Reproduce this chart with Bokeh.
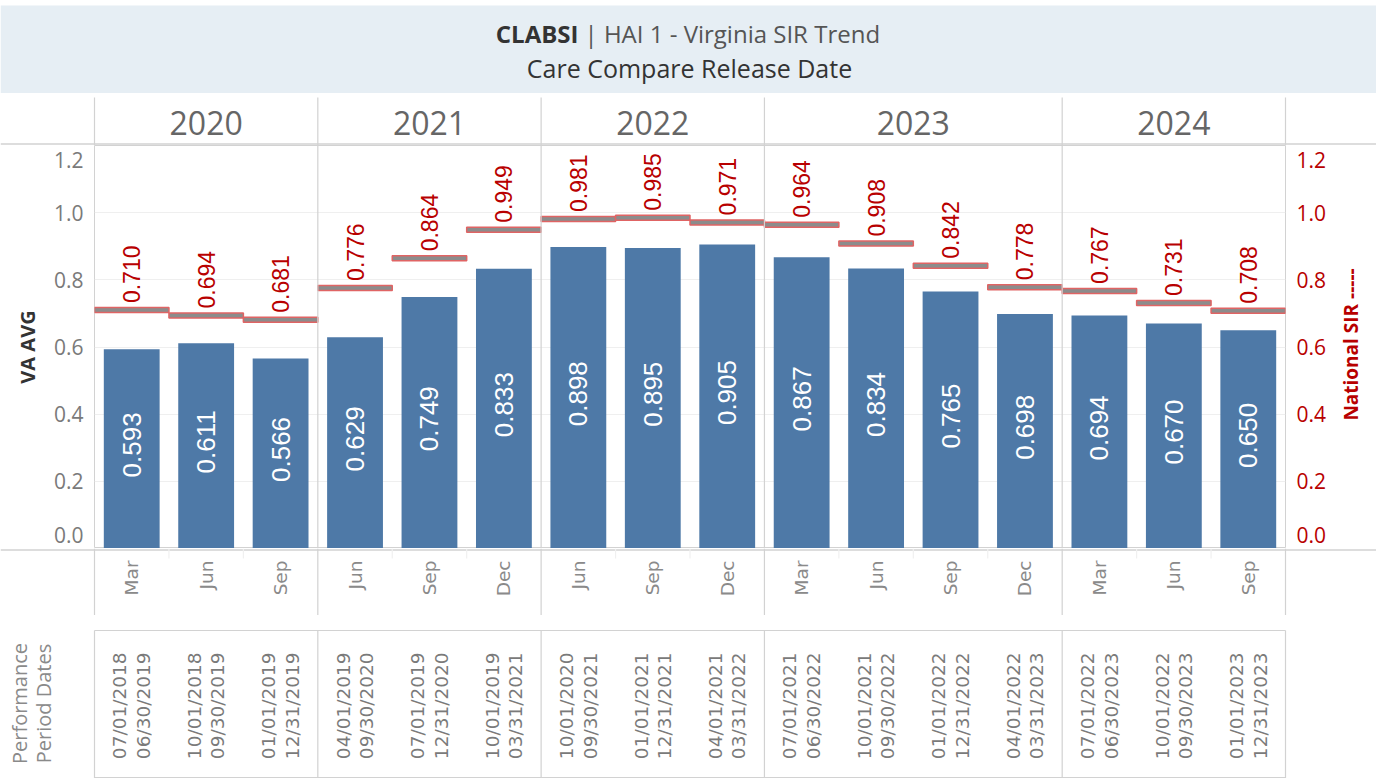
import math
from bokeh.plotting import figure
from bokeh.models import Range1d, LinearAxis, FixedTicker, Span
from bokeh.layouts import column, row
from bokeh.core.properties import value
from bokeh.embed import file_html
from bokeh.resources import INLINE

# ---------------- data ----------------
release_years = ["2020", "2020", "2020", "2021", "2021", "2021", "2022", "2022", "2022",
                 "2023", "2023", "2023", "2023", "2024", "2024", "2024"]
release_months = ["Mar", "Jun", "Sep", "Jun", "Sep", "Dec", "Jun", "Sep", "Dec",
                  "Mar", "Jun", "Sep", "Dec", "Mar", "Jun", "Sep"]
va_avg = [0.593, 0.611, 0.566, 0.629, 0.749, 0.833, 0.898, 0.895, 0.905,
          0.867, 0.834, 0.765, 0.698, 0.694, 0.670, 0.650]
national_sir = [0.710, 0.694, 0.681, 0.776, 0.864, 0.949, 0.981, 0.985, 0.971,
                0.964, 0.908, 0.842, 0.778, 0.767, 0.731, 0.708]
period_start = ["07/01/2018", "10/01/2018", "01/01/2019", "04/01/2019", "07/01/2019", "10/01/2019",
                "10/01/2020", "01/01/2021", "04/01/2021", "07/01/2021", "10/01/2021", "01/01/2022",
                "04/01/2022", "07/01/2022", "10/01/2022", "01/01/2023"]
period_end = ["06/30/2019", "09/30/2019", "12/31/2019", "09/30/2020", "12/31/2020", "03/31/2021",
              "09/30/2021", "12/31/2021", "03/31/2022", "06/30/2022", "09/30/2022", "12/31/2022",
              "03/31/2023", "06/30/2023", "09/30/2023", "12/31/2023"]
y_ticks = [0.0, 0.2, 0.4, 0.6, 0.8, 1.0, 1.2]
y_tick_labels = ["0.0", "0.2", "0.4", "0.6", "0.8", "1.0", "1.2"]

# ---------------- layout constants ----------------
N = len(va_avg)
W = 1376
LEFT, RIGHT = 94, 91
FRAME_W = W - LEFT - RIGHT
SLOT_PX = FRAME_W / N
SIDE_W = 46
H_TITLE, H_HEAD, H_MAIN, H_MONTH, H_DATES = 93, 52, 403, 67, 163
Y_MAX = 1.2

SEP = "#d2d2d2"
BAR = "#4e79a7"
RED = "#b80000"
TICK_GRAY = "#7a7a7a"
NUM_FONT = value("Liberation Sans")
UI_FONT = value("Open Sans")
DATE_FONT = value("DejaVu Sans")

xs = [i + 0.5 for i in range(N)]
bounds = [i for i in range(1, N) if release_years[i] != release_years[i - 1]]
edges = [0] + bounds + [N]
inner = [i for i in range(1, N) if i not in bounds]
groups = []
for a, b in zip(edges[:-1], edges[1:]):
    groups.append((release_years[a], (a + b) / 2))

XR = (-LEFT / SLOT_PX, N + RIGHT / SLOT_PX)


def strip(h, xr=XR, w=W):
    f = figure(width=w, height=h, x_range=Range1d(*xr), y_range=Range1d(0, h),
               x_axis_location=None, y_axis_location=None, toolbar_location=None,
               output_backend="svg", min_border=0, outline_line_color=None,
               frame_align=False)
    f.grid.visible = False
    return f


# ---------------- title ----------------
t = strip(H_TITLE, (0, W))
t.quad(left=[0], right=[W], bottom=[0], top=[H_TITLE - 5], fill_color="#e6eef4", line_color=None)
t.text(x=[578], y=[60], text=["CLABSI"], text_align="right", text_baseline="middle",
       text_font=UI_FONT, text_font_size="24px", text_font_style="bold", text_color="#333333")
t.text(x=[584], y=[60], text=["| HAI 1 - Virginia SIR Trend"], text_align="left",
       text_baseline="middle", text_font=UI_FONT, text_font_size="24px", text_color="#555555")
t.text(x=[689], y=[26], text=["Care Compare Release Date"], text_align="center",
       text_baseline="middle", text_font=UI_FONT, text_font_size="25px", text_color="#333333")

# ---------------- year header ----------------
hd = strip(H_HEAD)
hd.segment(x0=edges, y0=[0] * len(edges), x1=edges, y1=[H_HEAD - 4] * len(edges),
           line_color=SEP, line_width=1.2)
hd.segment(x0=[XR[0]], y0=[1.5], x1=[XR[1]], y1=[1.5], line_color=SEP, line_width=1.5)
hd.text(x=[g[1] for g in groups], y=[23] * len(groups), text=[g[0] for g in groups],
        text_align="center", text_baseline="middle", text_font=UI_FONT,
        text_font_size="32px", text_color="#666666")

# ---------------- main plot ----------------
MAIN_W = W - SIDE_W
p = figure(width=MAIN_W, height=H_MAIN, x_range=Range1d(0, N), y_range=Range1d(0, Y_MAX),
           x_axis_location=None, toolbar_location=None, output_backend="svg",
           min_border_left=LEFT, min_border_right=MAIN_W - LEFT - FRAME_W,
           min_border_top=0, min_border_bottom=0, outline_line_color=SEP, frame_align=False)
p.ygrid.ticker = FixedTicker(ticks=y_ticks)
p.ygrid.grid_line_color = "#efefef"
p.xgrid.visible = False

# edge tick labels are pulled inside the frame, as the original does
label_pos = [min(max(v, 0.041), Y_MAX - 0.042) for v in y_ticks]
overrides = {pos: lab for pos, lab in zip(label_pos, y_tick_labels)}


def style_axis(ax, color):
    ax.ticker = FixedTicker(ticks=label_pos)
    ax.major_label_overrides = overrides
    ax.major_label_text_font = "Open Sans"
    ax.major_label_text_font_size = "21px"
    ax.major_label_text_color = color
    ax.major_label_standoff = 11
    ax.major_tick_line_color = None
    ax.major_tick_out = 0
    ax.major_tick_in = 0
    ax.minor_tick_line_color = None
    ax.minor_tick_out = 0
    ax.minor_tick_in = 0
    ax.axis_line_color = None


ax_l = p.yaxis[0]
style_axis(ax_l, TICK_GRAY)
ax_l.axis_label = "VA AVG"
ax_l.axis_label_text_font = "Open Sans"
ax_l.axis_label_text_font_size = "20px"
ax_l.axis_label_text_font_style = "bold"
ax_l.axis_label_text_color = "#333333"
ax_l.axis_label_standoff = 10

p.extra_y_ranges = {"nat": Range1d(0, Y_MAX)}
ax_r = LinearAxis(y_range_name="nat")
style_axis(ax_r, RED)
p.add_layout(ax_r, "right")

for b in bounds:
    p.add_layout(Span(location=b, dimension="height", line_color=SEP, line_width=1.2))

p.vbar(x=xs, top=va_avg, bottom=0, width=0.75, fill_color=BAR, line_color=None)
p.rect(x=xs, y=national_sir, width=1, height=5, height_units="screen",
       fill_color="#8c8c8c", line_color="#e06464", line_width=1.5, y_range_name="nat")
p.text(x=xs, y=national_sir, text=[f"{v:.3f}" for v in national_sir], angle=math.pi / 2,
       text_align="left", text_baseline="middle", y_offset=-7, text_font=NUM_FONT,
       text_font_size="23px", text_color=RED, y_range_name="nat")
p.text(x=xs, y=[v / 2 for v in va_avg], text=[f"{v:.3f}" for v in va_avg], angle=math.pi / 2,
       text_align="center", text_baseline="middle", y_offset=-4, text_font=NUM_FONT,
       text_font_size="26px", text_color="white")

# right-hand axis title (reads bottom to top, like the original)
side = strip(H_MAIN, (0, SIDE_W), SIDE_W)
side.text(x=[20], y=[204], text=["National SIR -----"], angle=math.pi / 2,
          text_align="center", text_baseline="middle", text_font=UI_FONT,
          text_font_size="19px", text_font_style="bold", text_color=RED)

# ---------------- month row ----------------
mo = strip(H_MONTH)
mo.segment(x0=[XR[0]], y0=[H_MONTH - 1.5], x1=[XR[1]], y1=[H_MONTH - 1.5],
           line_color=SEP, line_width=1.5)
mo.segment(x0=edges, y0=[0] * len(edges), x1=edges, y1=[H_MONTH] * len(edges),
           line_color=SEP, line_width=1.2)
mo.segment(x0=inner, y0=[H_MONTH - 10] * len(inner), x1=inner, y1=[H_MONTH] * len(inner),
           line_color="#f0f0f0", line_width=1.2)
mo.text(x=xs, y=[H_MONTH - 12] * N, text=release_months, angle=math.pi / 2,
        text_align="right", text_baseline="middle", text_font=DATE_FONT,
        text_font_size="18.5px", text_color="#8a8a8a")

# ---------------- performance period dates ----------------
BOX_TOP = H_DATES - 15
dt = strip(H_DATES)
dt.segment(x0=[0, 0], y0=[BOX_TOP, 1], x1=[N, N], y1=[BOX_TOP, 1], line_color=SEP, line_width=1.2)
dt.segment(x0=edges, y0=[0] * len(edges), x1=edges, y1=[BOX_TOP] * len(edges),
           line_color=SEP, line_width=1.2)
dt.text(x=xs, y=[BOX_TOP - 22] * N, text=[f"{a}\n{b}" for a, b in zip(period_start, period_end)],
        angle=math.pi / 2, text_align="right", text_baseline="middle", text_line_height=1.12,
        text_font=DATE_FONT, text_font_size="18.5px", text_color="#7a7a7a")
dt.text(x=[-63 / SLOT_PX], y=[75], text=["Performance\nPeriod Dates"], angle=math.pi / 2,
        text_align="center", text_baseline="middle", text_line_height=0.92,
        text_font=UI_FONT, text_font_size="20px", text_color="#8a8a8a")

layout = column(t, hd, row(p, side, spacing=0), mo, dt, spacing=0)
open("out.html", "w").write(file_html(layout, INLINE))
